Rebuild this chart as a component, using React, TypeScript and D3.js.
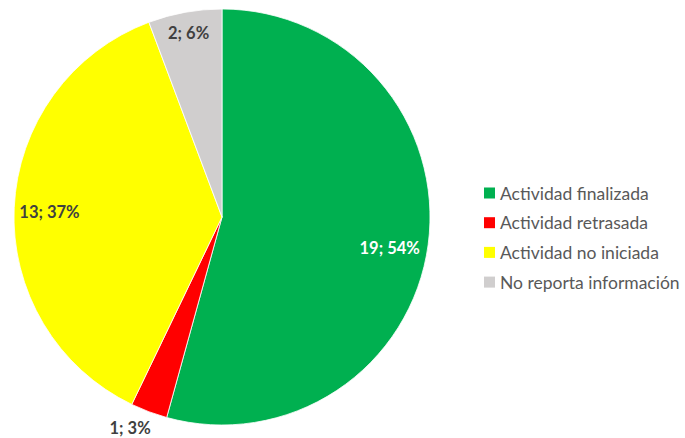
import React from "react";
import * as d3 from "d3";

const categories = ["Actividad finalizada", "Actividad retrasada", "Actividad no iniciada", "No reporta información"];
const values = [19, 1, 13, 2];
const colors = ["#00B050", "#FF0000", "#FFFF00", "#D0CECE"];
const labelColors = ["#FFFFFF", "#404040", "#404040", "#404040"];
const labelRadiusFactor = [0.82, 1.105, 0.83, 0.9];
const labelAngleShiftDeg = [2.8, 3, -0.8, 0];

export default function App() {
  const width = 685;
  const height = 438;
  const cx = 222;
  const cy = 217;
  const r = 208;
  const total = d3.sum(values);
  const pie = d3.pie<number>().sort(null).value((d) => d);
  const arcs = pie(values);
  const arcGen = d3.arc<d3.PieArcDatum<number>>().innerRadius(0).outerRadius(r);
  const font = "Lato, 'Open Sans', sans-serif";
  return (
    <svg width={width} height={height} style={{ position: "absolute", left: 0, top: 0, background: "#fff" }}>
      <g transform={`translate(${cx},${cy})`}>
        {arcs.map((a, i) => (
          <path key={i} d={arcGen(a) || ""} fill={colors[i]} stroke="#fff" strokeWidth={0.8} />
        ))}
        {arcs.map((a, i) => {
          const mid = (a.startAngle + a.endAngle) / 2 + (labelAngleShiftDeg[i] * Math.PI) / 180;
          const rr = r * labelRadiusFactor[i];
          const x = Math.sin(mid) * rr;
          const y = -Math.cos(mid) * rr;
          const pct = Math.round((values[i] / total) * 100);
          return (
            <text key={i} x={x} y={y} textAnchor="middle" dominantBaseline="central"
              fontFamily={font} fontWeight="bold" fontSize={16.5} fill={labelColors[i]}>
              {`${values[i]}; ${pct}%`}
            </text>
          );
        })}
      </g>
      <g transform="translate(484,193)">
        {categories.map((c, i) => (
          <g key={c} transform={`translate(0,${i * 29.7})`}>
            <rect x={0} y={-5.5} width={11} height={11} fill={colors[i]} />
            <text x={16} y={0} dominantBaseline="central" fontFamily={font} fontSize={17.5} fill="#595959">{c}</text>
          </g>
        ))}
      </g>
    </svg>
  );
}
